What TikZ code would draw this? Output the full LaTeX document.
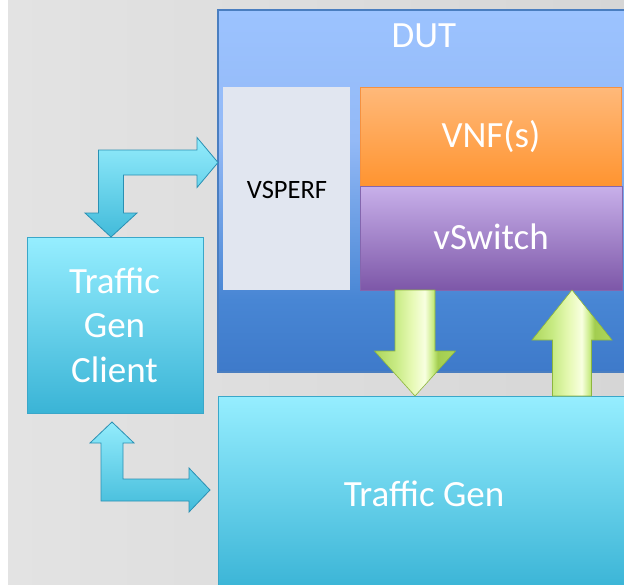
\documentclass[tikz,border=0pt]{standalone}
\usepackage{fontspec}
\setmainfont{Carlito}
\usetikzlibrary{calc}

% palette
\definecolor{bgL}{HTML}{E3E3E3}
\definecolor{bgR}{HTML}{D6D6D6}
\definecolor{dutTop}{HTML}{9CC3FF}
\definecolor{dutTopB}{HTML}{93B9F6}
\definecolor{dutLow}{HTML}{4886D4}
\definecolor{dutBot}{HTML}{3E7ACA}
\definecolor{dutEdge}{HTML}{4A7EC0}
\definecolor{perfFill}{HTML}{E1E6F0}
\definecolor{vnfTop}{HTML}{FFB97A}
\definecolor{vnfBot}{HTML}{FF9430}
\definecolor{vnfEdge}{HTML}{F59140}
\definecolor{swTop}{HTML}{C8B0EA}
\definecolor{swBot}{HTML}{7D57A8}
\definecolor{swEdge}{HTML}{8466AE}
\definecolor{cyTop}{HTML}{96EEFF}
\definecolor{cyBot}{HTML}{3AB4D6}
\definecolor{cyEdge}{HTML}{3AA7C9}
\definecolor{arTop}{HTML}{93ECFC}
\definecolor{arBot}{HTML}{42BBDA}
\definecolor{arEdge}{HTML}{2A90B3}
\definecolor{limeA}{HTML}{ADD65B}
\definecolor{limeB}{HTML}{C8EB84}
\definecolor{limeC}{HTML}{E6F9B4}
\definecolor{limeD}{HTML}{F8FFE0}
\definecolor{limeE}{HTML}{A3CD50}
\definecolor{limeEdge}{HTML}{8DB63E}

% DUT body: light blue on top, darkening towards the bottom
\pgfdeclareverticalshading{dutshade}{100bp}{%
  color(0bp)=(dutBot); color(25bp)=(dutBot); color(35bp)=(dutLow);
  color(57bp)=(dutTopB); color(75bp)=(dutTop); color(100bp)=(dutTop)}
% bevelled look for the green arrows
\pgfdeclarehorizontalshading{limebevel}{100bp}{%
  color(0bp)=(limeA); color(25bp)=(limeA); color(38bp)=(limeB);
  color(48bp)=(limeC); color(56bp)=(limeD); color(61bp)=(limeB);
  color(64bp)=(limeE); color(75bp)=(limeA); color(100bp)=(limeA)}

\tikzset{
  box/.style={rectangle, inner sep=0pt, outer sep=0pt},
  lbl/.style={text=white, font=\fontsize{37}{44.5}\selectfont, inner sep=0pt},
  cyanarrow/.style={top color=arTop, bottom color=arBot, draw=arEdge,
    line width=0.8pt, line join=miter},
  limearrow/.style={shading=limebevel, draw=limeEdge, line width=0.6pt,
    line join=miter},
}

\begin{document}
\begin{tikzpicture}[x=1pt, y=-1pt]
\useasboundingbox (0,0) rectangle (624,584);
\clip (0,0) rectangle (624,584);

% backdrop
\fill[white] (0,0) rectangle (624,584);
\shade[left color=bgL, right color=bgR] (8,0) rectangle (624,584);

% device under test
\node[box, minimum width=408pt, minimum height=362pt, shading=dutshade,
      draw=dutEdge, line width=1.5pt] (dut) at (422,191) {};
\node[lbl, anchor=base] (dutlbl) at (424,47) {DUT};

\node[box, minimum width=127pt, minimum height=203pt, fill=perfFill]
      (vsperf) at (286.5,188.5) {};
\node[inner sep=0pt, anchor=base, font=\fontsize{26.5}{30}\selectfont]
      (vsperflbl) at (287,198) {VSPERF};

\node[box, minimum width=261pt, minimum height=99pt, top color=vnfTop,
      bottom color=vnfBot, draw=vnfEdge, line width=1pt] (vnf) at (490.5,136.5) {};
\node[lbl, anchor=base] (vnflbl) at (491,147) {VNF(s)};

\node[box, minimum width=262pt, minimum height=104pt, top color=swTop,
      bottom color=swBot, draw=swEdge, line width=0.6pt] (vswitch) at (491,238) {};
\node[lbl, anchor=base] (vswitchlbl) at (491,249) {vSwitch};

% traffic generator and its client
\node[box, minimum width=176pt, minimum height=176pt, top color=cyTop,
      bottom color=cyBot, draw=cyEdge, line width=1pt] (client) at (115,325) {};

\node[box, minimum width=412pt, minimum height=194pt, top color=cyTop,
      bottom color=cyBot, draw=cyEdge, line width=1pt] (tgen) at (424,493) {};
\node[lbl, anchor=base] (tgenlbl) at (424,506) {Traffic Gen};

% control link: client <-> VSPERF
\coordinate (ca) at ($(client.north)+(-4,0)$);
\coordinate (cb) at ($(vsperf.west)+(-5,-26)$);
\coordinate (cc) at (ca |- cb);
\path[cyanarrow]
  ($(cc)+(-12.5,-12.5)$) -- ($(cb)+(-21,-12.5)$) -- ($(cb)+(-21,-25)$) -- (cb)
  -- ($(cb)+(-21,25)$) -- ($(cb)+(-21,12.5)$) -- ($(cc)+(12.5,12.5)$)
  -- ($(ca)+(12.5,-24)$) -- ($(ca)+(26,-24)$) -- (ca) -- ($(ca)+(-26,-24)$)
  -- ($(ca)+(-12.5,-24)$) -- cycle;

% control link: client <-> traffic generator
\coordinate (da) at ($(client.south)+(-3,9)$);
\coordinate (db) at ($(tgen.west)+(-8,-3)$);
\coordinate (dc) at (da |- db);
\path[cyanarrow]
  ($(dc)+(-11,11)$) -- ($(db)+(-21,11)$) -- ($(db)+(-21,22)$) -- (db)
  -- ($(db)+(-21,-22)$) -- ($(db)+(-21,-11)$) -- ($(dc)+(11,-11)$)
  -- ($(da)+(11,21)$) -- ($(da)+(22,21)$) -- (da) -- ($(da)+(-22,21)$)
  -- ($(da)+(-11,21)$) -- cycle;

% client caption, drawn above the control link
\node[lbl, align=center, anchor=base] (clientlbl) at (114.5,382)
      {Traffic\\Gen\\Client};

% data path: vSwitch -> traffic generator
\coordinate (ga) at ($(vswitch.south)+(-76,0)$);
\coordinate (gb) at (ga |- tgen.north);
\path[limearrow]
  ($(ga)+(-20,0)$) -- ($(gb)+(-20,-45)$) -- ($(gb)+(-40.5,-45)$) -- (gb)
  -- ($(gb)+(40.5,-45)$) -- ($(gb)+(20,-45)$) -- ($(ga)+(20,0)$) -- cycle;

% data path: traffic generator -> vSwitch
\coordinate (ha) at ($(vswitch.south)+(81,0)$);
\coordinate (hb) at (ha |- tgen.north);
\path[limearrow]
  ($(hb)+(-19.5,0)$) -- ($(ha)+(-19.5,50)$) -- ($(ha)+(-40,50)$) -- (ha)
  -- ($(ha)+(40,50)$) -- ($(ha)+(19.5,50)$) -- ($(hb)+(19.5,0)$) -- cycle;
\end{tikzpicture}
\end{document}
